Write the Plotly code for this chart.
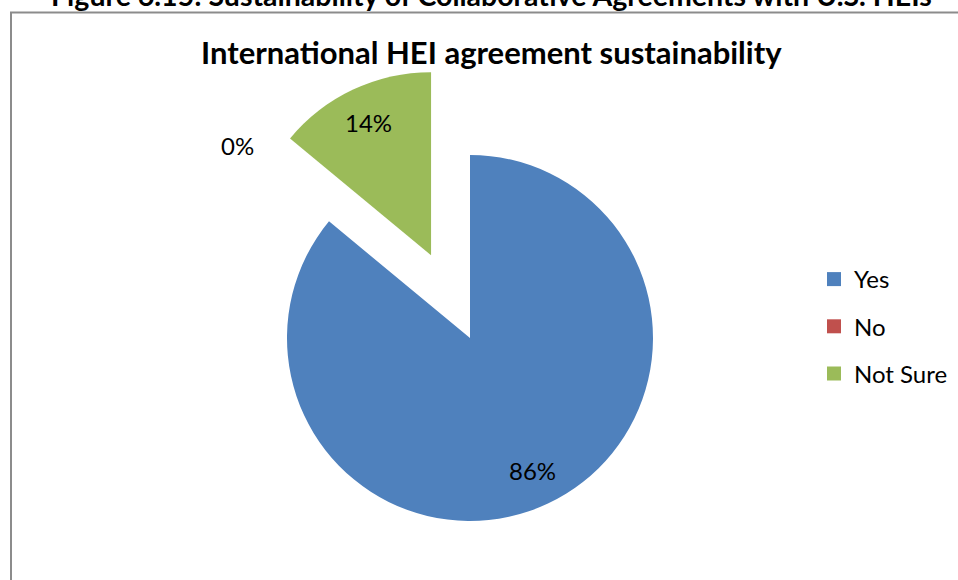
import math
import plotly.graph_objects as go

# Survey responses
categories = ["Yes", "No", "Not Sure"]
shares = [86, 0, 14]
slice_colors = ["#4F81BD", "#C0504D", "#9BBB59"]
exploded = [False, False, True]

chart_title = "International HEI agreement sustainability"
caption = "Figure 6.15: Sustainability of Collaborative Agreements with U.S. HEIs"

W, H = 958, 580
FONT = "Lato"
CLEAR = "rgba(0,0,0,0)"

# pie geometry in pixels
cx, cy, r = 470, 338, 183
pull = 0.5


def to_paper(x, y):
    return x / W, 1 - y / H


def domain_for(x, y):
    return dict(x=[(x - r) / W, (x + r) / W], y=[1 - (y + r) / H, 1 - (y - r) / H])


total = sum(shares)
mids = []
acc = 0
for v in shares:
    mids.append(2 * math.pi * (acc + v / 2) / total)
    acc += v

fig = go.Figure()

# main pie holds the slices that stay in place
fig.add_trace(go.Pie(
    labels=categories, values=shares, sort=False, direction="clockwise", rotation=0,
    marker=dict(colors=[CLEAR if e else c for c, e in zip(slice_colors, exploded)],
                line=dict(width=0)),
    textinfo="none", showlegend=False, domain=domain_for(cx, cy), hoverinfo="label+percent",
))

# exploded slices, each drawn from its own pulled-out centre
annotations = []
for i, (lab, v, col, e) in enumerate(zip(categories, shares, slice_colors, exploded)):
    th = mids[i]
    ux, uy = math.sin(th), -math.cos(th)
    pcx, pcy = (cx + pull * r * ux, cy + pull * r * uy) if e else (cx, cy)
    if e:
        fig.add_trace(go.Pie(
            labels=categories, values=shares, sort=False, direction="clockwise", rotation=0,
            marker=dict(colors=[col if j == i else CLEAR for j in range(len(categories))],
                        line=dict(width=0)),
            textinfo="none", showlegend=False, domain=domain_for(pcx, pcy),
            hoverinfo="label+percent",
        ))
    pct = f"{round(100 * v / total)}%"
    if v > 0:
        lx, ly = pcx + 0.8 * r * ux, pcy + 0.8 * r * uy
    else:
        lx, ly = cx + 1.65 * r * ux, cy + 1.65 * r * uy
    px, py = to_paper(lx, ly)
    annotations.append(dict(x=px, y=py, xref="paper", yref="paper", text=pct,
                            xanchor="center", yanchor="middle", showarrow=False,
                            font=dict(family=FONT, size=24, color="#000000")))

# legend entries
for lab, col in zip(categories, slice_colors):
    fig.add_trace(go.Scatter(
        x=[None], y=[None], mode="markers", name=lab, legendgroup=lab,
        marker=dict(symbol="square", size=14, color=col),
    ))

annotations.append(dict(x=491 / W, y=1 - 52 / H, xref="paper", yref="paper",
                        xanchor="center", yanchor="middle", text=f"<b>{chart_title}</b>",
                        showarrow=False, font=dict(family=FONT, size=31, color="#000000")))
annotations.append(dict(x=491 / W, y=1 - 14 / H, xref="paper", yref="paper",
                        xanchor="center", yanchor="bottom",
                        text=f"<b>{caption}</b>", showarrow=False,
                        font=dict(family=FONT, size=28.5, color="#000000")))

fig.update_layout(
    width=W, height=H, margin=dict(l=0, r=0, t=0, b=0),
    paper_bgcolor="white", plot_bgcolor="white",
    xaxis=dict(visible=False), yaxis=dict(visible=False),
    annotations=annotations,
    legend=dict(x=814 / W, y=1 - 257 / H, xanchor="left", yanchor="top",
                font=dict(family=FONT, size=24, color="#000000"),
                tracegroupgap=13, bgcolor=CLEAR),
    shapes=[dict(type="rect", xref="paper", yref="paper",
                 x0=11 / W, x1=1.05, y0=1 - 12.5 / H, y1=-0.05,
                 line=dict(color="#8C8C8C", width=2), fillcolor=CLEAR, layer="below")],
)

fig.write_html("out.html")
